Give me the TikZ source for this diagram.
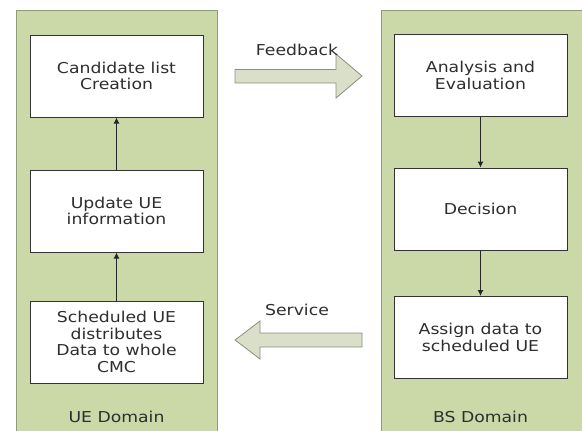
\documentclass[tikz,border=0pt]{standalone}
\usepackage{fontspec}
\setmainfont{DejaVu Sans}[FakeStretch=1.15]
\usetikzlibrary{arrows.meta}
\definecolor{panelgreen}{HTML}{CBD9A9}
\definecolor{panelborder}{HTML}{8E9C78}
\definecolor{arrowfill}{HTML}{D9DFC8}
\definecolor{arrowborder}{HTML}{8A9080}
\definecolor{textgray}{HTML}{2E2E2E}
\begin{document}
\begin{tikzpicture}[x=1pt,y=-1pt,
  panel/.style={draw=panelborder,fill=panelgreen,line width=1pt},
  stepbox/.style={draw=black!80,fill=white,line width=1pt,minimum width=173pt,minimum height=82pt,align=center,inner sep=0pt,text=textgray,font=\fontsize{15}{16.7}\selectfont},
  lbl/.style={font=\fontsize{15}{16.7}\selectfont,inner sep=0pt,text=textgray},
  flow/.style={-{Latex[length=6pt,width=6pt]},line width=1pt,black!85},
  bigarrow/.style={draw=arrowborder,fill=arrowfill,line width=0.8pt}
]
\useasboundingbox (0,0) rectangle (582,431);
\fill[white] (0,0) rectangle (582,431);
\draw[panel] (16,10) rectangle (217,436);
\draw[panel] (381,10) rectangle (587,436);
\node[stepbox] (cand) at (116.5,76) {Candidate list\\Creation};
\node[stepbox] (upd) at (116.5,211) {Update UE\\information};
\node[stepbox] (sched) at (116.5,342) {Scheduled UE\\distributes\\Data to whole\\CMC};
\node[stepbox] (ana) at (480.5,75.5) {Analysis and\\Evaluation};
\node[stepbox] (dec) at (480.5,209) {Decision};
\node[stepbox] (asg) at (480.5,337.5) {Assign data to\\scheduled UE};
\node[lbl] (ued) at (116.5,417) {UE Domain};
\node[lbl] (bsd) at (480.5,417) {BS Domain};
\draw[flow] (sched) -- (upd);
\draw[flow] (upd) -- (cand);
\draw[flow] (ana) -- (dec);
\draw[flow] (dec) -- (asg);
% Feedback arrow
\draw[bigarrow] (235,69.5) -- (336,69.5) -- (336,54) -- (362,76) -- (336,98) -- (336,83) -- (235,83) -- cycle;
\node[lbl] (fb) at (297,50) {Feedback};
% Service arrow
\draw[bigarrow] (362,333) -- (260,333) -- (260,321) -- (235,340) -- (260,359) -- (260,347) -- (362,347) -- cycle;
\node[lbl] (sv) at (297,310) {Service};
\end{tikzpicture}
\end{document}
